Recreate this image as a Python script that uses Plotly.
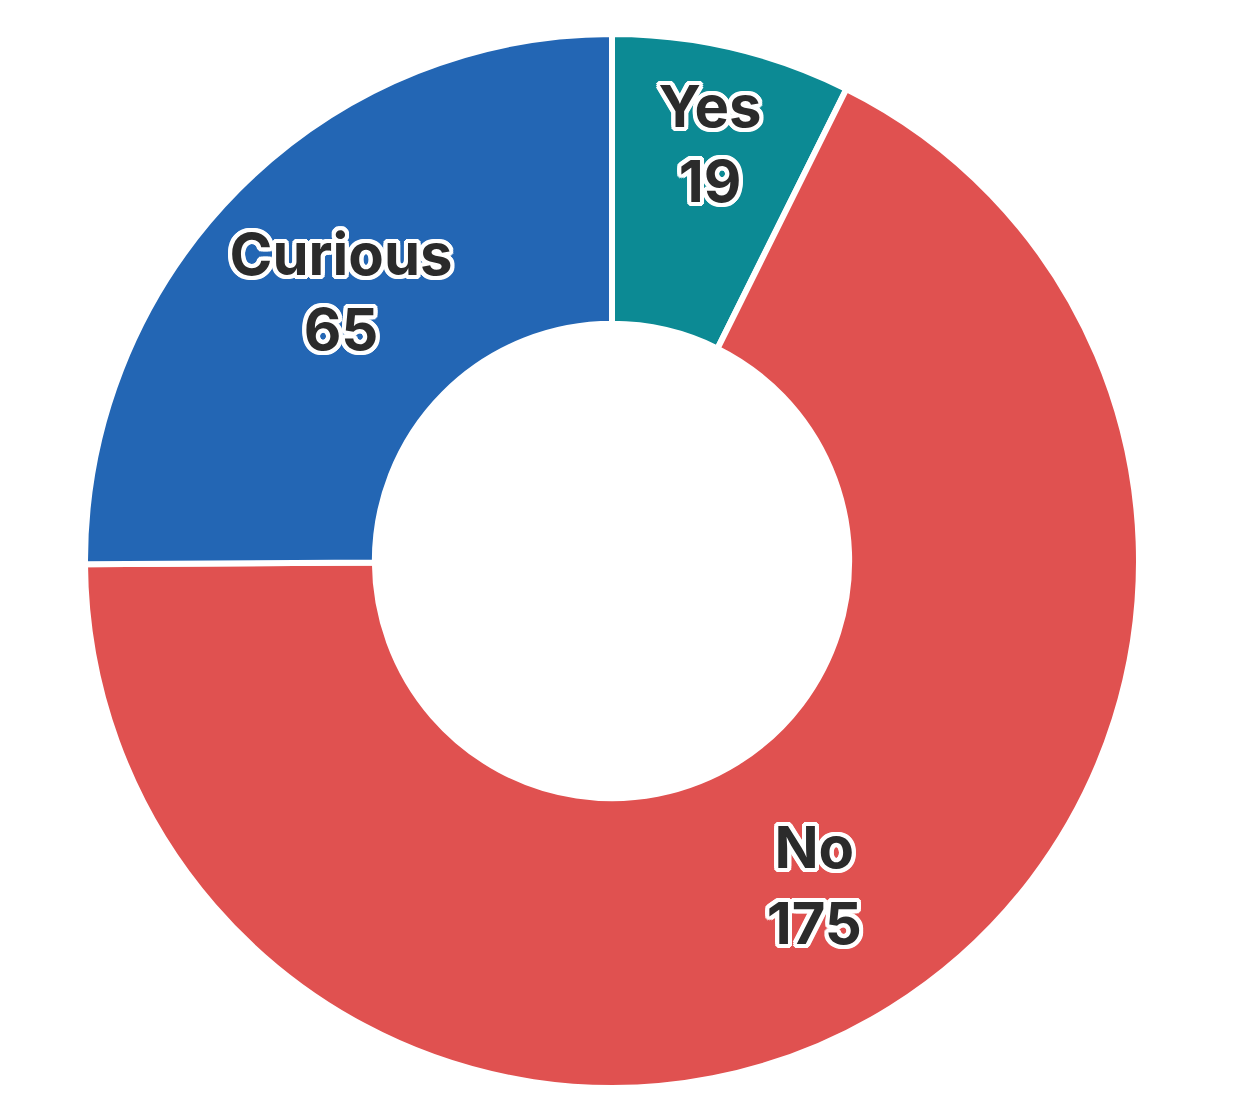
import plotly.graph_objects as go

labels = ["Yes", "No", "Curious"]
values = [19, 175, 65]
colors = ["#0c8a94", "#e05150", "#2366b4"]

offs = [(-4, 0), (4, 0), (0, -4), (0, 4), (-3, -3), (3, -3), (-3, 3), (3, 3),
        (-2, -4), (2, -4), (-2, 4), (2, 4), (-4, -2), (4, -2), (-4, 2), (4, 2)]
outline = ",".join(f"{dx}px {dy}px 0 #ffffff" for dx, dy in offs)

fig = go.Figure(go.Pie(
    labels=labels,
    values=values,
    hole=0.45,
    sort=False,
    direction="clockwise",
    rotation=0,
    marker=dict(colors=colors, line=dict(color="#ffffff", width=6)),
    textinfo="label+value",
    textposition="inside",
    insidetextorientation="horizontal",
    textfont=dict(family="Inter", size=58, color="#2b2b2b", weight="bold", shadow=outline),
    showlegend=False,
))

fig.update_layout(
    width=1254, height=1101,
    margin=dict(l=0, r=46, t=26, b=21),
    paper_bgcolor="#ffffff",
    plot_bgcolor="#ffffff",
    uniformtext=dict(minsize=58, mode="show"),
)

fig.write_html("out.html")
